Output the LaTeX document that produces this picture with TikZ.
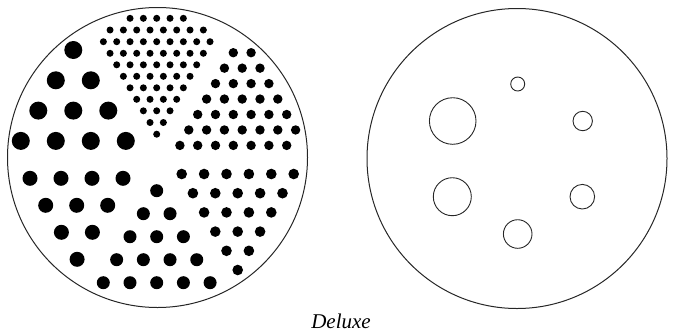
\documentclass[tikz,border=0pt]{standalone}
\usepackage{fontspec}
\setmainfont{Liberation Serif}
\usepackage{tikz}
\usetikzlibrary{positioning}

\begin{document}
\begin{tikzpicture}[
      x=1pt, y=-1pt,
      disc/.style={draw=black!85, line width=1pt},
      hole/.style={draw=black!85, line width=0.9pt},
      dot/.style={fill=black},
    ]
    \useasboundingbox (0,0) rectangle (674,333);
    % left disc with dot sectors
    \draw[disc] (157.5,157.5) circle (150);
    % top sector, smallest dots
    \foreach \y/\n in {18.3/5, 30/8, 41.7/9, 53.3/8, 64.8/7, 76.3/6, 87.8/5, 99.3/4, 110.8/3, 122.5/2, 134.2/1}
      \foreach \i in {1,...,\n}
        \fill[dot] ({156.7+(\i-(\n+1)/2)*13.33},\y) circle (3.5);
    % top right sector
    \foreach \k in {0,...,6}{
      \pgfmathtruncatemacro{\n}{min(\k+2,7)}
      \foreach \i in {1,...,\n}
        \fill[dot] ({233.3-\k*8.9+(\i-1)*17.8},{52.7+\k*15.45}) circle (4.7);
    }
    % lower right sector
    \foreach \k in {0,...,5}{
      \pgfmathtruncatemacro{\n}{6-\k}
      \foreach \i in {1,...,\n}
        \fill[dot] ({181.7+\k*11.2+(\i-1)*22.4},{174+\k*19.2}) circle (5.3);
    }
    % bottom sector
    \foreach \k in {0,...,4}{
      \pgfmathtruncatemacro{\n}{\k+1}
      \foreach \i in {1,...,\n}
        \fill[dot] ({156.7-\k*13.35+(\i-1)*26.7},{190.7+\k*23}) circle (6.5);
    }
    % lower left sector
    \foreach \k in {0,...,3}{
      \pgfmathtruncatemacro{\n}{4-\k}
      \foreach \i in {1,...,\n}
        \fill[dot] ({30+\k*15.7+(\i-1)*31},{178.3+\k*27}) circle (7.5);
    }
    % upper left sector, biggest dots
    \foreach \k in {0,...,3}{
      \pgfmathtruncatemacro{\n}{\k+1}
      \foreach \i in {1,...,\n}
        \fill[dot] ({73.3-\k*17.5+(\i-1)*35},{50+\k*30.3}) circle (9);
    }
    % right disc with holes
    \draw[disc] (517,158.5) circle (150);
    \draw[hole] (517.7,84) circle (7);
    \draw[hole] (452.7,121) circle (23.3);
    \draw[hole] (582.7,121) circle (9.7);
    \draw[hole] (452.3,196.7) circle (19);
    \draw[hole] (582.3,196.7) circle (12.3);
    \draw[hole] (517.7,234) circle (14.3);
    \node[anchor=base, inner sep=0pt, font=\fontsize{21}{24}\selectfont\itshape] (caption) at (341,328.5) {Deluxe};
  \end{tikzpicture}
\end{document}
